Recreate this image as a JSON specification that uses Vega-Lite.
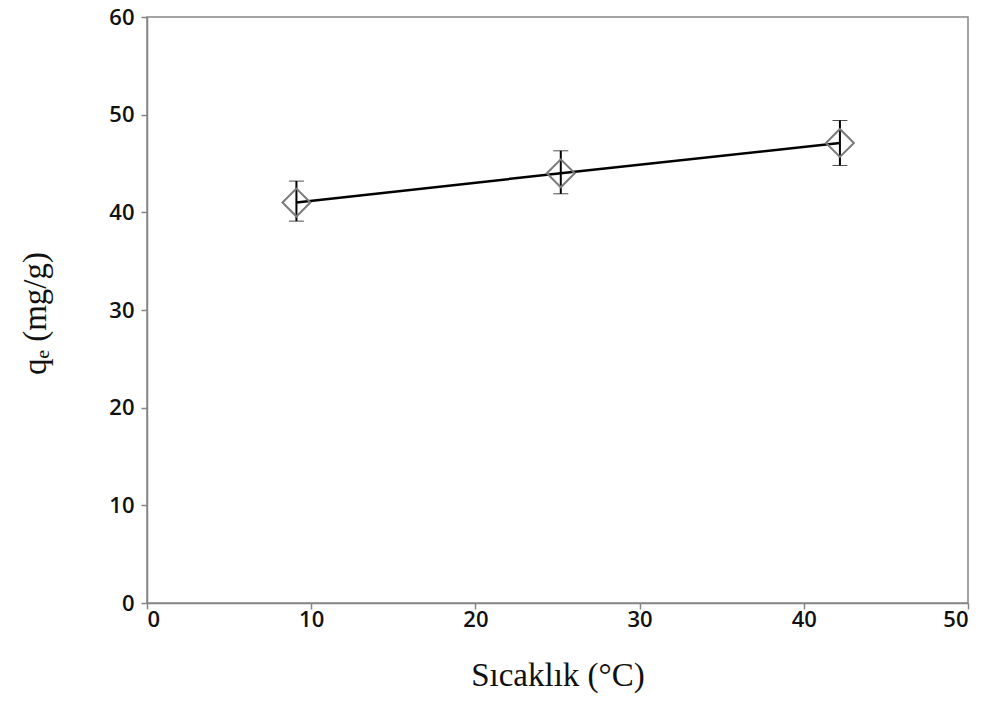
{
  "$schema": "https://vega.github.io/schema/vega-lite/v6.json",
  "autosize": "none",
  "width": 821,
  "height": 586,
  "padding": {"left": 147, "top": 17, "right": 22, "bottom": 103},
  "background": "white",
  "config": {
    "view": {"stroke": "#868686", "strokeWidth": 1.5},
    "axis": {
      "grid": false,
      "domainColor": "#868686",
      "domainWidth": 1.5,
      "tickColor": "#868686",
      "tickWidth": 1.5,
      "tickSize": 6,
      "labelFont": "Open Sans",
      "labelFontSize": 22,
      "labelFontWeight": 600,
      "labelColor": "#111111",
      "titleFont": "Liberation Serif",
      "titleFontWeight": "normal",
      "titleFontSize": 33,
      "titleColor": "#111111"
    }
  },
  "data": {
    "values": [
      {"t": 9.1, "q": 41.0, "lo": 39.1, "hi": 43.2},
      {"t": 25.2, "q": 44.0, "lo": 41.9, "hi": 46.3},
      {"t": 42.2, "q": 47.1, "lo": 44.8, "hi": 49.4}
    ]
  },
  "layer": [
    {
      "mark": {"type": "line", "color": "black", "strokeWidth": 2.5},
      "encoding": {
        "x": {"field": "t", "type": "quantitative",
              "scale": {"domain": [0, 50], "nice": false},
              "axis": {"values": [0, 10, 20, 30, 40, 50], "title": "Sıcaklık (°C)", "labelPadding": 0, "titleY": 82, "titleBaseline": "alphabetic"}},
        "y": {"field": "q", "type": "quantitative",
              "scale": {"domain": [0, 60], "nice": false},
              "axis": {"values": [0, 10, 20, 30, 40, 50, 60], "title": "qₑ (mg/g)", "labelPadding": 7, "titleX": -112, "titleY": 296, "titleBaseline": "middle", "titleAlign": "center"}}
      }
    },
    {
      "mark": {"type": "errorbar", "ticks": {"size": 15, "strokeWidth": 2, "color": "black"}, "rule": {"strokeWidth": 2, "color": "black"}},
      "encoding": {
        "x": {"field": "t", "type": "quantitative", "title": "Sıcaklık (°C)"},
        "y": {"field": "lo", "type": "quantitative", "title": "qₑ (mg/g)"},
        "y2": {"field": "hi"}
      }
    },
    {
      "mark": {"type": "point", "shape": "diamond", "filled": false, "stroke": "#7a7a7a", "strokeWidth": 2, "size": 780, "opacity": 1},
      "encoding": {
        "x": {"field": "t", "type": "quantitative", "title": "Sıcaklık (°C)"},
        "y": {"field": "q", "type": "quantitative", "title": "qₑ (mg/g)"}
      }
    }
  ]
}
